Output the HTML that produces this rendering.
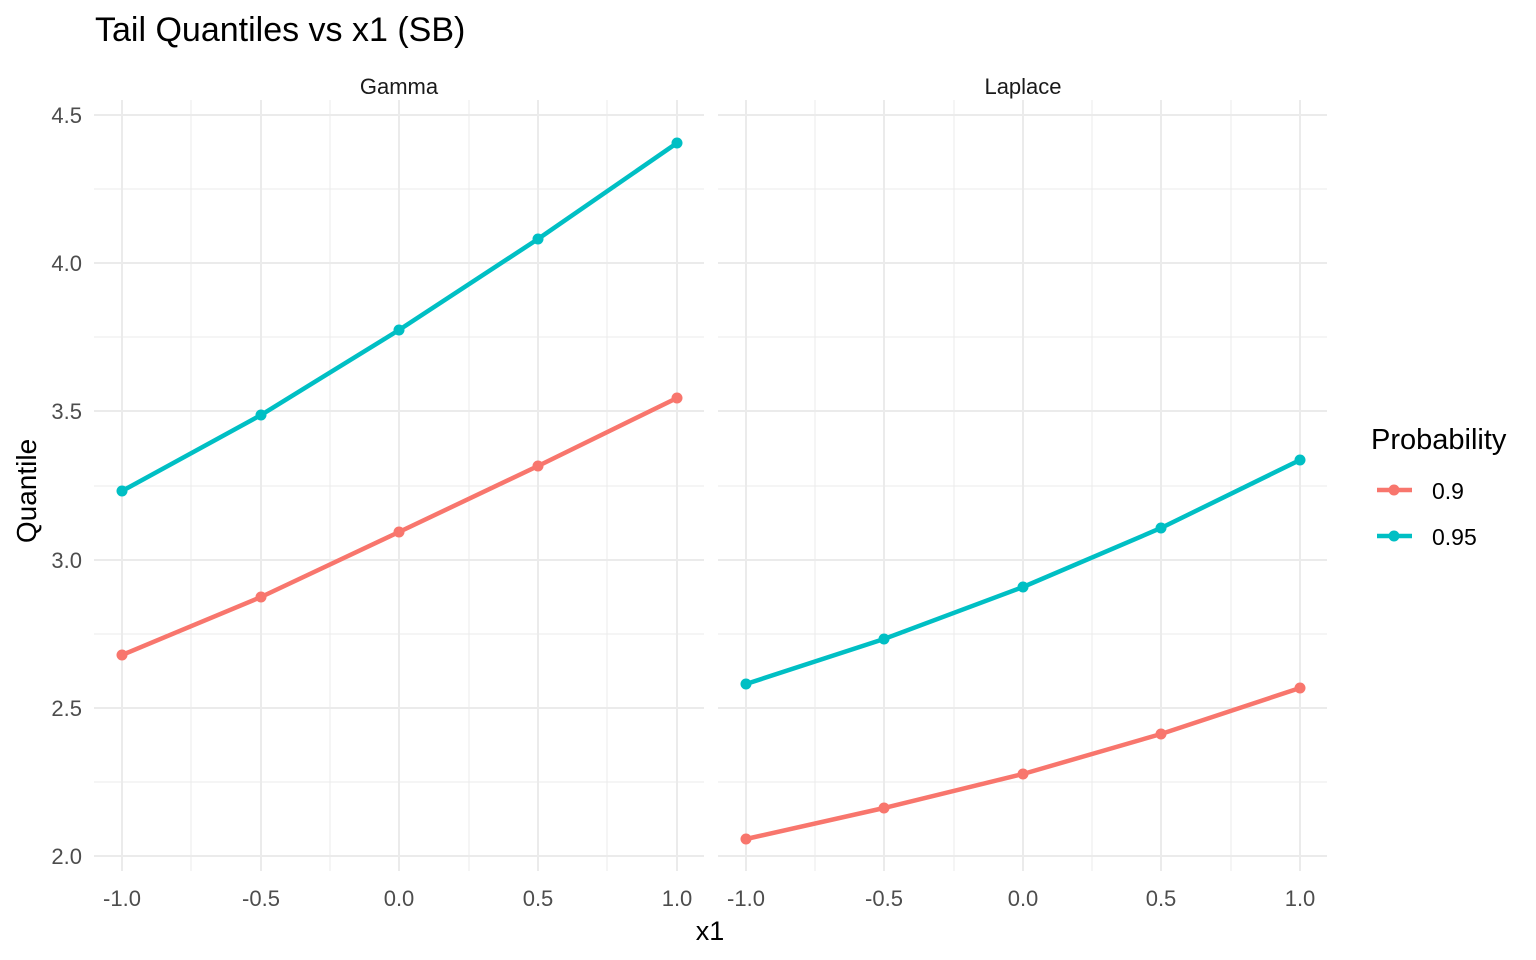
<!DOCTYPE html>
<html><head><style>body{margin:0;background:#fff}svg{display:block}</style></head><body>
<svg width="1536" height="960" xmlns="http://www.w3.org/2000/svg" font-family="Liberation Sans, Arial, sans-serif">
<rect width="1536" height="960" fill="#fff"/>
<text x="95" y="41" font-size="34" fill="#000">Tail Quantiles vs x1 (SB)</text>
<g stroke="#ebebeb" stroke-width="1">
<line x1="94" x2="704" y1="782" y2="782"/><line x1="94" x2="704" y1="634" y2="634"/><line x1="94" x2="704" y1="486" y2="486"/><line x1="94" x2="704" y1="337" y2="337"/><line x1="94" x2="704" y1="189" y2="189"/>
<line x1="191" x2="191" y1="100" y2="871"/><line x1="330" x2="330" y1="100" y2="871"/><line x1="469" x2="469" y1="100" y2="871"/><line x1="607" x2="607" y1="100" y2="871"/>
<line x1="718" x2="1327" y1="782" y2="782"/><line x1="718" x2="1327" y1="634" y2="634"/><line x1="718" x2="1327" y1="486" y2="486"/><line x1="718" x2="1327" y1="337" y2="337"/><line x1="718" x2="1327" y1="189" y2="189"/>
<line x1="815" x2="815" y1="100" y2="871"/><line x1="954" x2="954" y1="100" y2="871"/><line x1="1092" x2="1092" y1="100" y2="871"/><line x1="1231" x2="1231" y1="100" y2="871"/>
</g>
<g stroke="#ebebeb" stroke-width="2">
<line x1="94" x2="704" y1="856" y2="856"/><line x1="94" x2="704" y1="708" y2="708"/><line x1="94" x2="704" y1="560" y2="560"/><line x1="94" x2="704" y1="411" y2="411"/><line x1="94" x2="704" y1="263" y2="263"/><line x1="94" x2="704" y1="115" y2="115"/>
<line x1="122" x2="122" y1="100" y2="871"/><line x1="261" x2="261" y1="100" y2="871"/><line x1="399" x2="399" y1="100" y2="871"/><line x1="538" x2="538" y1="100" y2="871"/><line x1="677" x2="677" y1="100" y2="871"/>
<line x1="718" x2="1327" y1="856" y2="856"/><line x1="718" x2="1327" y1="708" y2="708"/><line x1="718" x2="1327" y1="560" y2="560"/><line x1="718" x2="1327" y1="411" y2="411"/><line x1="718" x2="1327" y1="263" y2="263"/><line x1="718" x2="1327" y1="115" y2="115"/>
<line x1="746" x2="746" y1="100" y2="871"/><line x1="884" x2="884" y1="100" y2="871"/><line x1="1023" x2="1023" y1="100" y2="871"/><line x1="1161" x2="1161" y1="100" y2="871"/><line x1="1300" x2="1300" y1="100" y2="871"/>
</g>
<text x="399" y="94" font-size="22" text-anchor="middle" fill="#1a1a1a">Gamma</text>
<text x="1023" y="94" font-size="22" text-anchor="middle" fill="#1a1a1a">Laplace</text>
<g font-size="22" fill="#4d4d4d" text-anchor="end">
<text x="82" y="864">2.0</text><text x="82" y="716">2.5</text><text x="82" y="568">3.0</text><text x="82" y="419">3.5</text><text x="82" y="271">4.0</text><text x="82" y="123">4.5</text>
</g>
<g font-size="22" fill="#4d4d4d" text-anchor="middle">
<text x="122" y="906">-1.0</text><text x="261" y="906">-0.5</text><text x="399" y="906">0.0</text><text x="538" y="906">0.5</text><text x="677" y="906">1.0</text>
<text x="746" y="906">-1.0</text><text x="884" y="906">-0.5</text><text x="1023" y="906">0.0</text><text x="1161" y="906">0.5</text><text x="1300" y="906">1.0</text>
</g>
<text x="710" y="940" font-size="27" text-anchor="middle">x1</text>
<text transform="translate(36,491) rotate(-90)" font-size="28" text-anchor="middle">Quantile</text>
<g fill="none" stroke-width="4.5">
<polyline stroke="#f8766d" points="122,655 261,597 399,532 538,466 677,398"/>
<polyline stroke="#00bfc4" points="122,491 261,415 399,330 538,239 677,143"/>
<polyline stroke="#f8766d" points="746,839 884,808 1023,774 1161,734 1300,688"/>
<polyline stroke="#00bfc4" points="746,684 884,639 1023,587 1161,528 1300,460"/>
</g>
<g fill="#f8766d"><circle cx="122" cy="655" r="5.5"/><circle cx="261" cy="597" r="5.5"/><circle cx="399" cy="532" r="5.5"/><circle cx="538" cy="466" r="5.5"/><circle cx="677" cy="398" r="5.5"/>
<circle cx="746" cy="839" r="5.5"/><circle cx="884" cy="808" r="5.5"/><circle cx="1023" cy="774" r="5.5"/><circle cx="1161" cy="734" r="5.5"/><circle cx="1300" cy="688" r="5.5"/></g>
<g fill="#00bfc4"><circle cx="122" cy="491" r="5.5"/><circle cx="261" cy="415" r="5.5"/><circle cx="399" cy="330" r="5.5"/><circle cx="538" cy="239" r="5.5"/><circle cx="677" cy="143" r="5.5"/>
<circle cx="746" cy="684" r="5.5"/><circle cx="884" cy="639" r="5.5"/><circle cx="1023" cy="587" r="5.5"/><circle cx="1161" cy="528" r="5.5"/><circle cx="1300" cy="460" r="5.5"/></g>
<text x="1371" y="449" font-size="29">Probability</text>
<line x1="1377" x2="1412" y1="490" y2="490" stroke="#f8766d" stroke-width="4.5"/><circle cx="1394" cy="490" r="5.5" fill="#f8766d"/>
<line x1="1377" x2="1412" y1="536" y2="536" stroke="#00bfc4" stroke-width="4.5"/><circle cx="1394" cy="536" r="5.5" fill="#00bfc4"/>
<text x="1432" y="499" font-size="23">0.9</text>
<text x="1432" y="545" font-size="23">0.95</text>
</svg>
</body></html>
